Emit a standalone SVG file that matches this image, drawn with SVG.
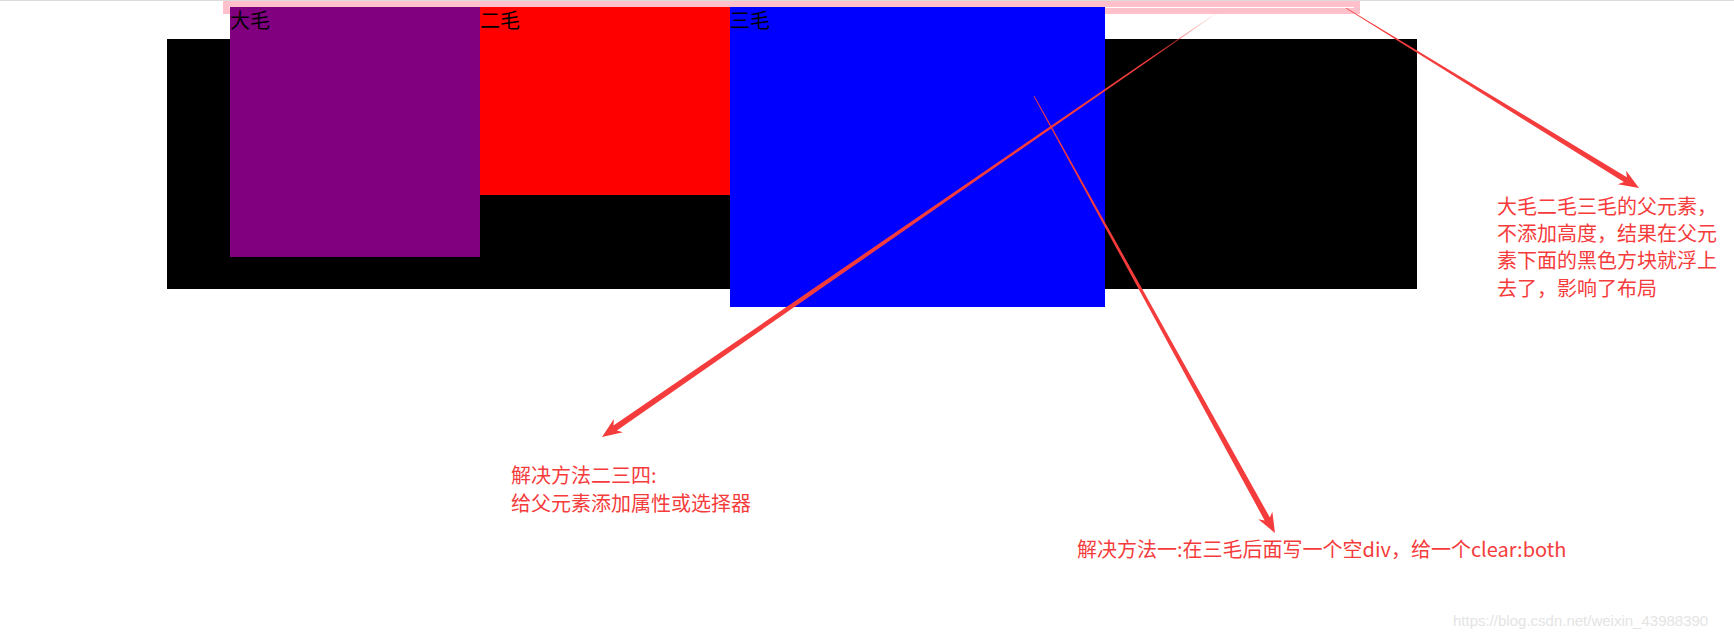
<svg xmlns="http://www.w3.org/2000/svg" width="1734" height="639" viewBox="0 0 1734 639">
<style>
.lbl{font-family:"Noto Sans CJK SC","Liberation Sans",sans-serif;font-size:20px;fill:#000}
.note{font-family:"Noto Sans CJK SC","Liberation Sans",sans-serif;font-size:20px;fill:#f53c3c}
.arrow{fill:#f53c3c}
.wm{font-family:"Liberation Sans",Arial,sans-serif;font-size:15px;fill:#e4e4e4}
</style>
<defs>
<linearGradient id="fade" gradientUnits="userSpaceOnUse" x1="1221" y1="10" x2="1150" y2="59">
<stop offset="0" stop-color="#f53c3c" stop-opacity="0"/>
<stop offset="1" stop-color="#f53c3c" stop-opacity="1"/>
</linearGradient>
</defs>
<rect x="0" y="0" width="1734" height="639" fill="#fff"/>
<rect x="0" y="0" width="1734" height="1" fill="#dcdcdc"/>
<g id="parent">
<rect x="223" y="1" width="1137" height="13" fill="#ffc0cb"/>
<rect x="229" y="7" width="1125" height="1" fill="#fff"/>
</g>
<g id="black-box"><rect x="167" y="39" width="1250" height="250" fill="#000"/></g>
<g id="damao"><rect x="230" y="7" width="250" height="250" fill="#800080"/><text class="lbl" x="230" y="28">大毛</text></g>
<g id="ermao"><rect x="480" y="7" width="250" height="188" fill="#f00"/><text class="lbl" x="480" y="28">二毛</text></g>
<g id="sanmao"><rect x="730" y="7" width="375" height="300" fill="#00f"/><text class="lbl" x="730" y="28">三毛</text></g>
<g id="connectors">
<polygon class="arrow" points="1345.79,8.34 1623.91,182.02 1617.78,184.36 1639,188 1626.14,170.72 1626.83,177.24 1346.21,7.66"/>
<polygon fill="url(#fade)" points="1220.77,9.67 613.47,425.45 613.92,419.06 602,437 623.0,432.22 616.87,430.39 1221.23,10.33"/>
<polygon class="arrow" points="1033.65,96.19 1264.64,520.44 1258.33,519.35 1275,533 1272.35,511.63 1269.9,517.54 1034.35,95.81"/>
</g>
<g id="note-parent">
<text class="note" x="1497" y="214">大毛二毛三毛的父元素，</text>
<text class="note" x="1497" y="241">不添加高度，结果在父元</text>
<text class="note" x="1497" y="268">素下面的黑色方块就浮上</text>
<text class="note" x="1497" y="296">去了，影响了布局</text>
</g>
<g id="note-234">
<text class="note" x="511" y="483">解决方法二三四:</text>
<text class="note" x="511" y="511">给父元素添加属性或选择器</text>
</g>
<g id="note-1">
<text class="note" x="1077" y="557">解决方法一:在三毛后面写一个空div，给一个clear:both</text>
</g>
<text class="wm" x="1453" y="626">https://blog.csdn.net/weixin_43988390</text>
</svg>
